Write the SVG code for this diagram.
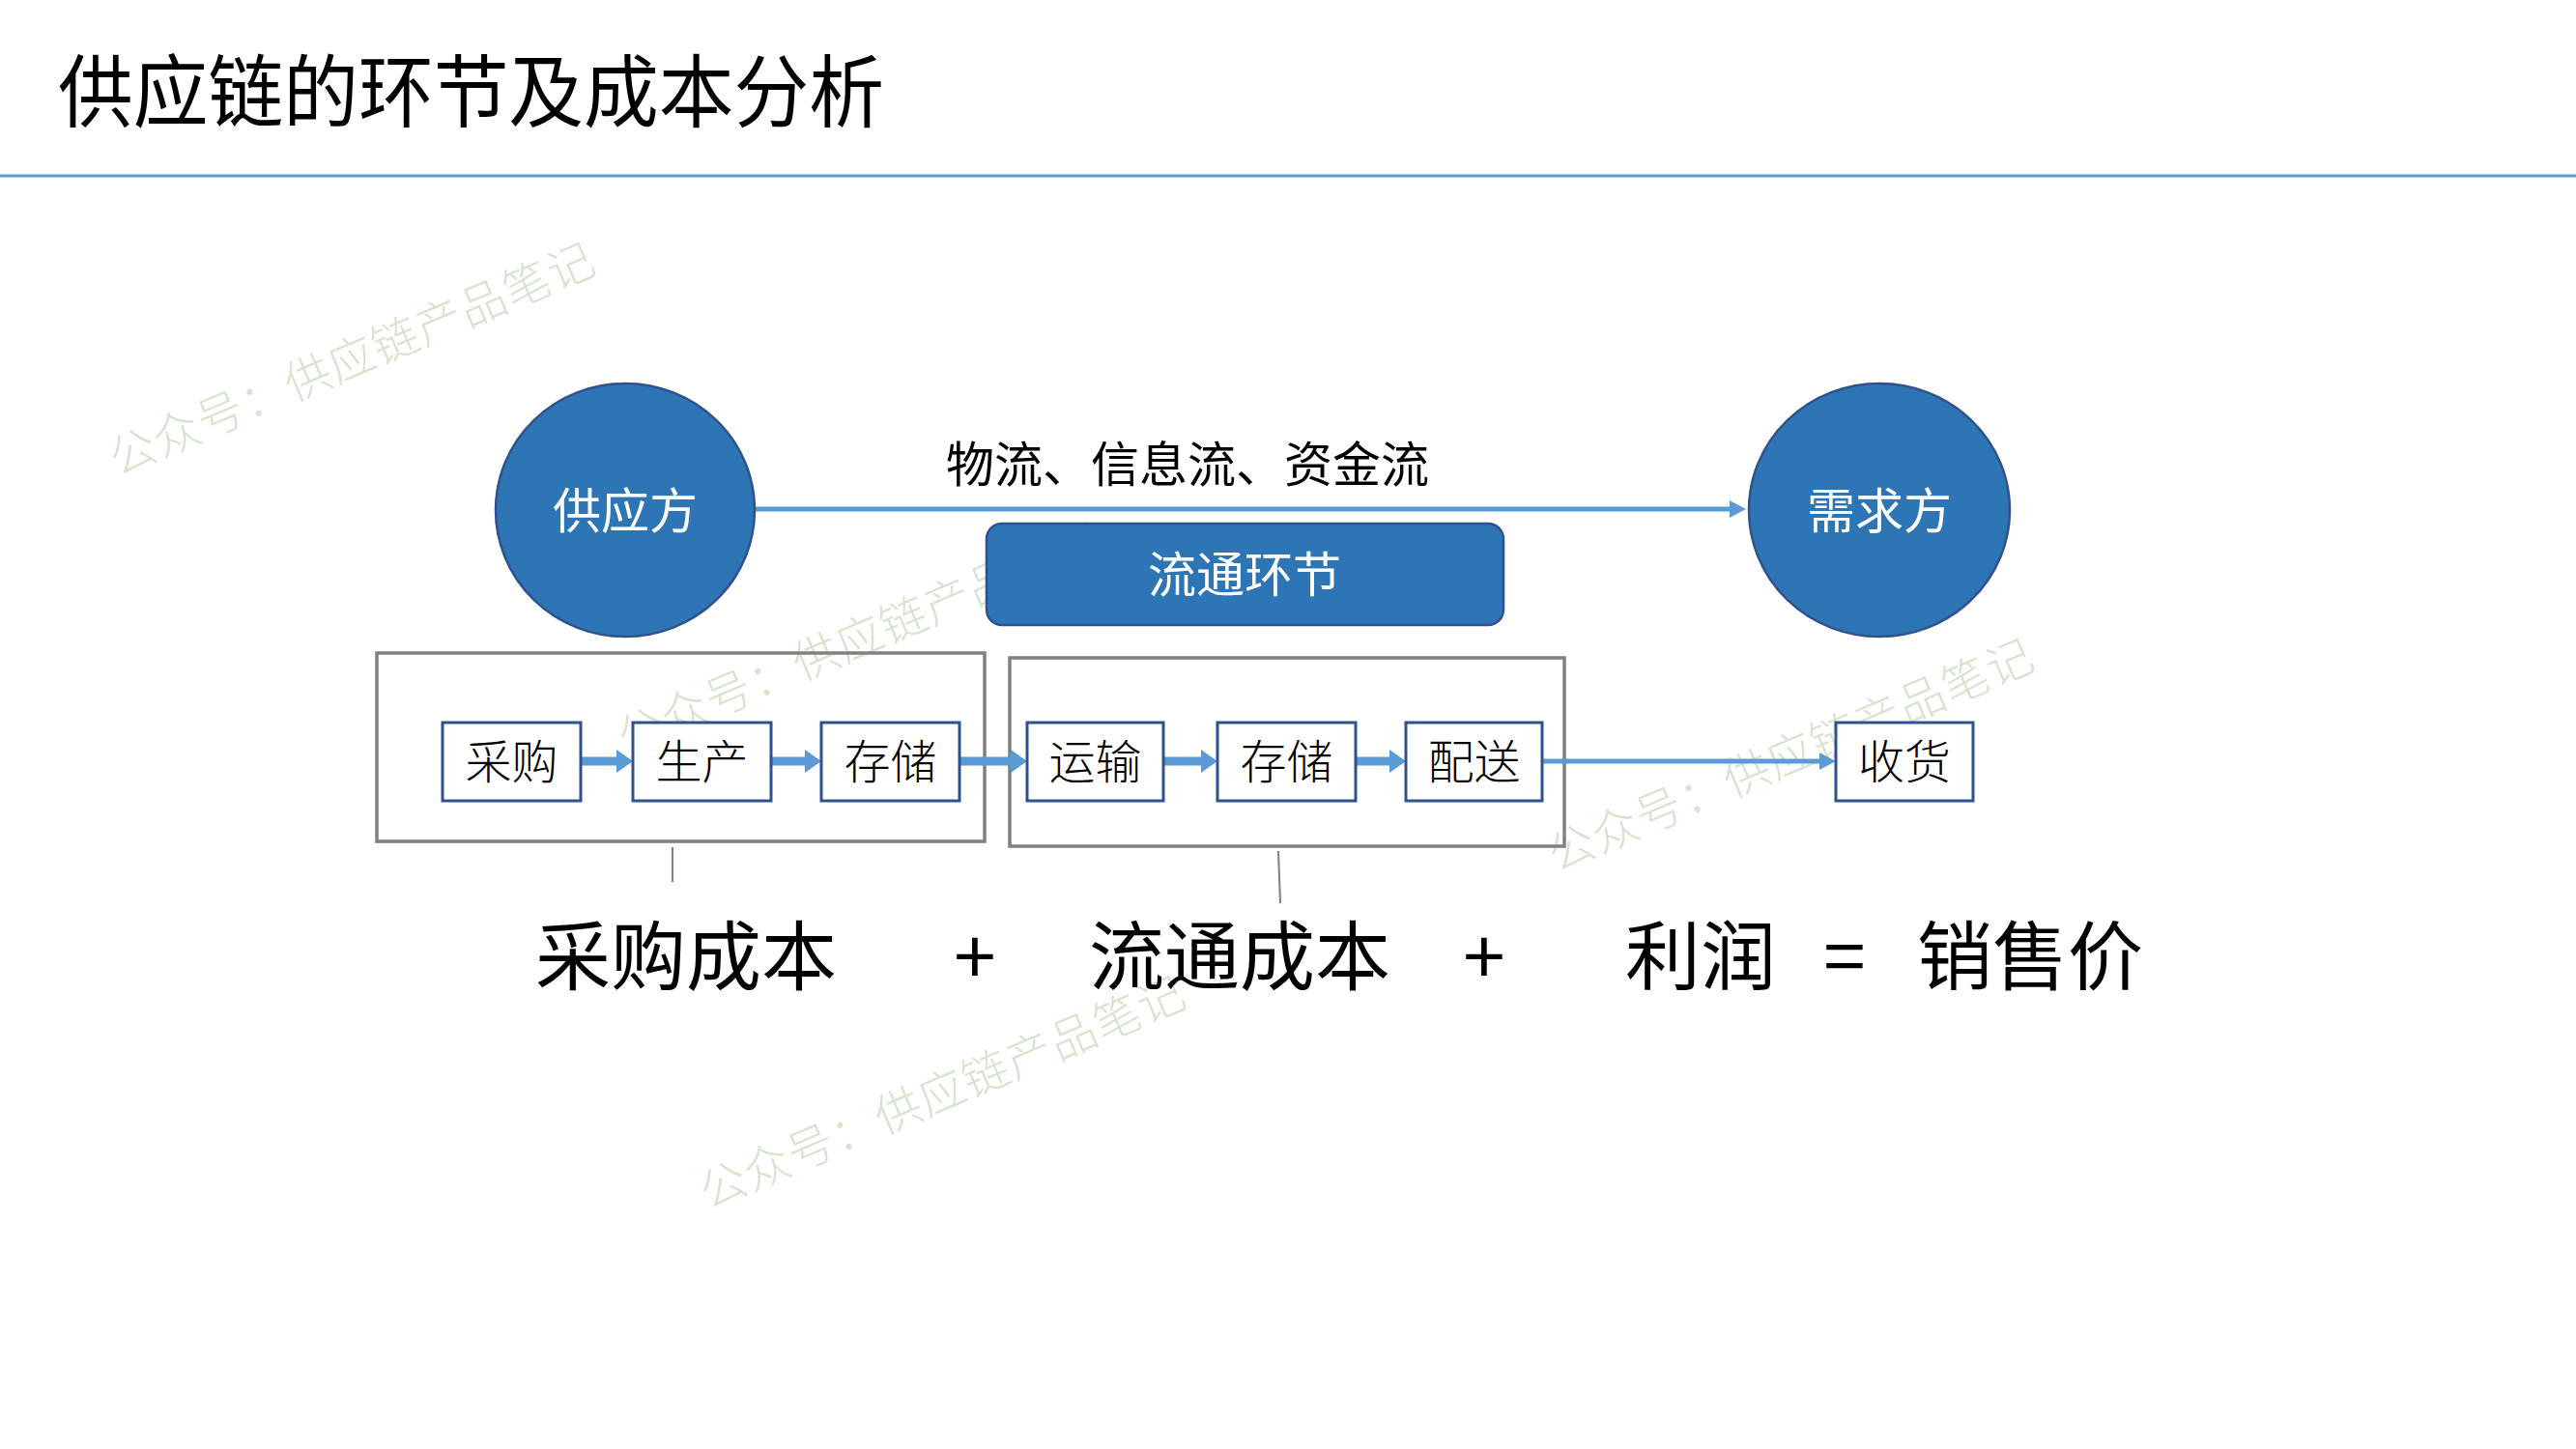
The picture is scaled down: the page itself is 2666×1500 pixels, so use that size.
<svg xmlns="http://www.w3.org/2000/svg" width="2666" height="1500" viewBox="0 0 2666 1500">
<defs>
<style>
text{font-family:"Noto Sans CJK SC","Noto Sans",sans-serif;}
.title{font-size:82px;fill:#000;}
.wm{font-size:48px;fill:#D6E4CE;font-weight:300;}
.circ{fill:#2E75B6;stroke:#2F528F;stroke-width:2.5;}
.wt{fill:#fff;font-size:50px;text-anchor:middle;}
.sbox{fill:#fff;stroke:#2F528F;stroke-width:3;}
.st{fill:#000;font-size:48px;text-anchor:middle;font-weight:300;}
.gbox{fill:none;stroke:#808080;stroke-width:3.5;}
.big{fill:#000;font-size:78px;text-anchor:middle;}
.thin{stroke:#5B9BD5;stroke-width:5;fill:none;}
.block{stroke:#5B9BD5;stroke-width:9;fill:none;}
.tick{stroke:#7F7F7F;stroke-width:2;}
</style>
<marker id="ah" markerUnits="userSpaceOnUse" markerWidth="18" markerHeight="18" refX="0" refY="9" orient="auto"><path d="M0,0 L17,9 L0,18 z" fill="#5B9BD5"/></marker>
<marker id="bh" markerUnits="userSpaceOnUse" markerWidth="18" markerHeight="24" refX="0" refY="12" orient="auto"><path d="M0,0 L17,12 L0,24 z" fill="#5B9BD5"/></marker>
</defs>
<rect width="2666" height="1500" fill="#fff"/>
<g id="watermarks">
<text class="wm" transform="translate(122,493) rotate(-23)" textLength="540" lengthAdjust="spacing">公众号：供应链产品笔记</text>
<text class="wm" transform="translate(648,782) rotate(-23)" textLength="540" lengthAdjust="spacing">公众号：供应链产品笔记</text>
<text class="wm" transform="translate(1611,903) rotate(-23)" textLength="540" lengthAdjust="spacing">公众号：供应链产品笔记</text>
<text class="wm" transform="translate(733,1252) rotate(-23)" textLength="540" lengthAdjust="spacing">公众号：供应链产品笔记</text>
</g>
<g id="header">
<text class="title" x="60" y="125" textLength="855" lengthAdjust="spacingAndGlyphs">供应链的环节及成本分析</text>
<line x1="0" y1="182" x2="2666" y2="182" stroke="#5B9BD5" stroke-width="3"/>
</g>
<g id="group-purchase"><rect class="gbox" x="390" y="676" width="629" height="195"/></g>
<g id="group-circulation"><rect class="gbox" x="1045" y="681" width="574" height="195"/></g>
<g id="connectors">
<line class="thin" x1="782" y1="527" x2="1790" y2="527" marker-end="url(#ah)"/>
<line class="block" x1="601" y1="788" x2="638" y2="788" marker-end="url(#bh)"/>
<line class="block" x1="798" y1="788" x2="833" y2="788" marker-end="url(#bh)"/>
<line class="block" x1="993" y1="788" x2="1046" y2="788" marker-end="url(#bh)"/>
<line class="block" x1="1204" y1="788" x2="1243" y2="788" marker-end="url(#bh)"/>
<line class="block" x1="1403" y1="788" x2="1438" y2="788" marker-end="url(#bh)"/>
<line class="thin" x1="1596" y1="788" x2="1883" y2="788" marker-end="url(#ah)"/>
<line class="tick" x1="696" y1="877" x2="696" y2="913"/>
<line class="tick" x1="1323" y1="881" x2="1325" y2="935"/>
</g>
<g id="supplier"><ellipse class="circ" cx="647" cy="528" rx="134" ry="131"/><text class="wt" x="647" y="547">供应方</text></g>
<g id="demander"><ellipse class="circ" cx="1945" cy="528" rx="135" ry="131"/><text class="wt" x="1945" y="547">需求方</text></g>
<g id="flow-label"><text x="1229" y="499" fill="#000" font-size="50" text-anchor="middle">物流、信息流、资金流</text></g>
<g id="circulation"><rect x="1021" y="542" width="535" height="105" rx="16" fill="#2E75B6" stroke="#2F528F" stroke-width="2.5"/><text class="wt" x="1288" y="613">流通环节</text></g>
<g id="n-caigou"><rect class="sbox" x="458" y="748" width="143" height="81"/><text class="st" x="529.5" y="806">采购</text></g>
<g id="n-shengchan"><rect class="sbox" x="655" y="748" width="143" height="81"/><text class="st" x="726.5" y="806">生产</text></g>
<g id="n-cunchu1"><rect class="sbox" x="850" y="748" width="143" height="81"/><text class="st" x="921.5" y="806">存储</text></g>
<g id="n-yunshu"><rect class="sbox" x="1063" y="748" width="141" height="81"/><text class="st" x="1133.5" y="806">运输</text></g>
<g id="n-cunchu2"><rect class="sbox" x="1260" y="748" width="143" height="81"/><text class="st" x="1331.5" y="806">存储</text></g>
<g id="n-peisong"><rect class="sbox" x="1455" y="748" width="141" height="81"/><text class="st" x="1525.5" y="806">配送</text></g>
<g id="n-shouhuo"><rect class="sbox" x="1900" y="748" width="142" height="81"/><text class="st" x="1971" y="806">收货</text></g>
<g id="formula">
<text class="big" x="710" y="1019">采购成本</text>
<text class="big" x="1009" y="1019">+</text>
<text class="big" x="1283" y="1019">流通成本</text>
<text class="big" x="1536" y="1019">+</text>
<text class="big" x="1760" y="1019">利润</text>
<text class="big" x="1909" y="1019">=</text>
<text class="big" x="2101" y="1019">销售价</text>
</g>
</svg>
